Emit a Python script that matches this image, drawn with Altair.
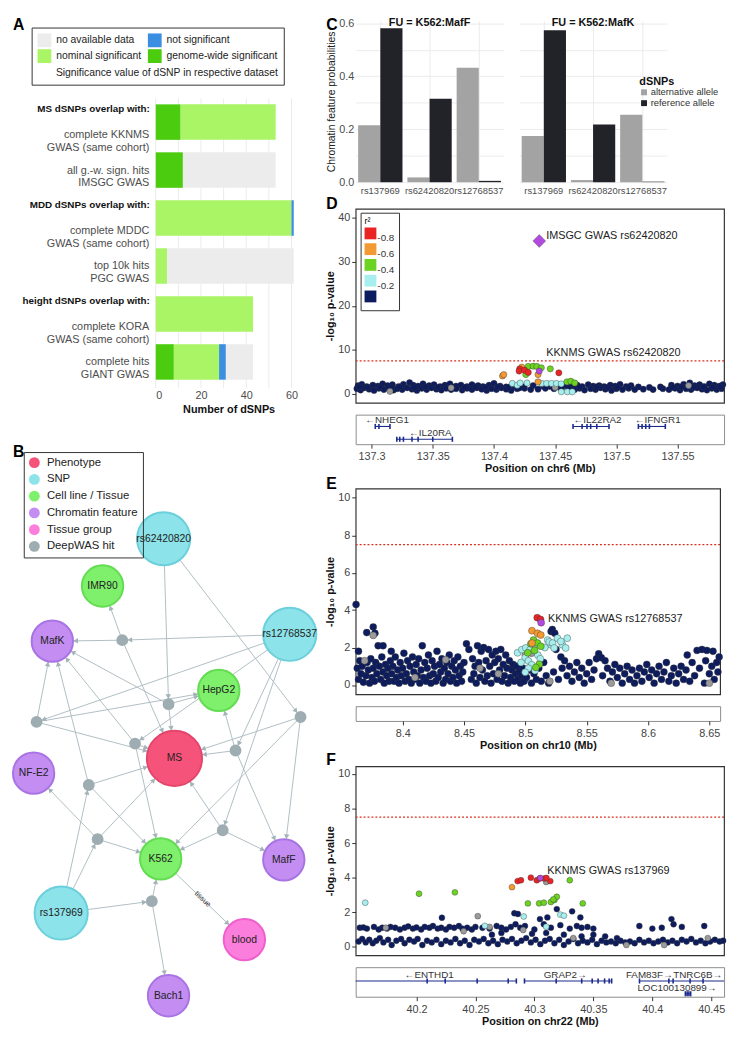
import math
import json
import pandas as pd
import altair as alt

FONT = "Liberation Sans"
GRID = "#ebebeb"
GENE = "#1b2a8c"

# ================= Panel A data =================
a_rows = ["complete KKNMS|GWAS (same cohort)", "all g.-w. sign. hits|IMSGC GWAS",
          "complete MDDC|GWAS (same cohort)", "top 10k hits|PGC GWAS",
          "complete KORA|GWAS (same cohort)", "complete hits|GIANT GWAS"]
a_headers = ["MS dSNPs overlap with:", "", "MDD dSNPs overlap with:", "",
             "height dSNPs overlap with:", ""]
a_gw = [11, 12, 0, 0, 0, 8]
a_nom = [42, 0, 60, 5, 43, 20]
a_ns = [0, 0, 1, 0, 0, 3]
a_na = [0, 41, 0, 56, 0, 12]
a_cats = ["genome-wide significant", "nominal significant", "not significant", "no available data"]
a_legend_order = ["no available data", "nominal significant", "not significant", "genome-wide significant"]
a_colors = ["#ececec", "#aaf566", "#3b8ee0", "#4bcc0e"]
a_ticks = [0, 10, 20, 30, 40, 50, 60]

# ================= Panel B data =================
b_types = ["Phenotype", "SNP", "Cell line / Tissue", "Chromatin feature", "Tissue group", "DeepWAS hit"]
b_fill = ["#f6537b", "#8ce3e9", "#7ef06c", "#c38df2", "#fb7edc", "#9eadb2"]
b_stroke = ["#e4456c", "#6ccfdc", "#63dc52", "#a874e3", "#ef5fcd", "#9eadb2"]
node_names = ["MS", "rs62420820", "rs12768537", "rs137969", "IMR90", "HepG2", "K562",
              "MafK", "NF-E2", "MafF", "Bach1", "blood",
              "h1", "h2", "h3", "h4", "h5", "h6", "h7", "h8", "h9", "h10"]
node_types = ["Phenotype", "SNP", "SNP", "SNP", "Cell line / Tissue", "Cell line / Tissue",
              "Cell line / Tissue", "Chromatin feature", "Chromatin feature", "Chromatin feature",
              "Chromatin feature", "Tissue group"] + ["DeepWAS hit"] * 10
node_x = [172, 161, 289, 57, 99, 217, 158, 48, 29, 283, 166, 243,
          119, 166, 32, 300, 132, 234, 85, 94, 221, 149]
node_y = [769, 546, 643, 926, 594, 700, 871, 650, 784, 872, 1010, 953,
          649, 714, 732, 727, 754, 761, 796, 851, 842, 914]
node_r = [28, 27, 27, 27, 21, 21, 21, 21, 21, 21, 21, 21] + [5] * 10
edge_src = ["rs62420820", "rs62420820", "rs12768537", "rs12768537", "rs12768537", "rs12768537",
            "rs12768537", "rs137969", "rs137969", "rs137969",
            "h1", "h1", "h1", "h2", "h2", "h2", "h3", "h3", "h3", "h4", "h4", "h4",
            "h5", "h5", "h5", "h6", "h6", "h6", "h7", "h7", "h7", "h8", "h8", "h8",
            "h9", "h9", "h9", "h10", "h10", "K562"]
edge_dst = ["h2", "h4", "h1", "h3", "h5", "h6", "h9", "h7", "h8", "h10",
            "MafK", "IMR90", "MS", "MS", "HepG2", "MafK", "MafK", "HepG2", "MS",
            "MS", "MafF", "K562", "MS", "K562", "MafK", "MS", "HepG2", "MafF",
            "MafK", "MS", "K562", "NF-E2", "MS", "K562", "MS", "K562", "MafF",
            "K562", "Bach1", "blood"]
edge_label = {("K562", "blood"): "tissue"}

# ================= Panel C data =================
c_fu = ["K562:MafF", "K562:MafK"]
c_snps = ["rs137969", "rs62420820", "rs12768537"]
c_alleles = ["alternative allele", "reference allele"]
c_maff_alt = [0.215, 0.018, 0.432]
c_maff_ref = [0.581, 0.315, 0.005]
c_mafk_alt = [0.174, 0.008, 0.255]
c_mafk_ref = [0.574, 0.218, 0.002]
c_grid = [0.0, 0.1, 0.2, 0.3, 0.4, 0.5, 0.6]

# ================= Panels D/E/F data =================
r2_domain = ["navy", "grey", "cyan", "green", "orange", "red", "purple"]
r2_range = ["#0d1c5e", "#9b9b9b", "#a6efee", "#6cd323", "#f49a32", "#ea2424", "#b34ae0"]
sig_line = [7.5]

# ---- D (chr6) ----
d_navy = [
    (137.289, 1.9), (137.292, 2.2), (137.296, 1.7), (137.301, 2.0), (137.305, 1.8), (137.309, 2.3),
    (137.313, 1.9), (137.317, 2.1), (137.322, 1.7), (137.326, 2.2), (137.331, 2.6), (137.334, 2.0),
    (137.338, 1.8), (137.342, 2.3), (137.347, 1.9), (137.351, 2.1), (137.356, 1.7), (137.36, 2.0),
    (137.364, 2.3), (137.369, 1.8), (137.373, 2.0), (137.378, 1.7), (137.382, 2.1), (137.387, 1.9),
    (137.391, 1.7), (137.396, 2.0), (137.4, 2.4), (137.405, 1.8), (137.41, 1.6), (137.417, 1.7),
    (137.424, 1.6), (137.432, 1.9), (137.44, 1.8), (137.446, 1.7), (137.452, 1.6), (137.458, 1.9),
    (137.463, 1.8), (137.468, 2.0), (137.472, 1.7), (137.477, 2.1), (137.481, 1.8), (137.486, 1.9),
    (137.49, 1.7), (137.495, 2.0), (137.499, 1.8), (137.503, 2.2), (137.508, 1.7), (137.512, 1.9),
    (137.518, 1.6), (137.527, 1.5), (137.536, 1.6), (137.545, 2.0), (137.55, 1.8), (137.555, 2.2),
    (137.56, 2.5), (137.564, 1.9), (137.568, 2.1), (137.572, 1.7), (137.576, 2.3), (137.58, 2.0),
    (137.584, 1.8), (137.587, 2.1),
    (137.288, 1.2), (137.291, 0.9), (137.294, 1.4), (137.298, 1.1), (137.302, 0.8), (137.306, 1.3),
    (137.31, 1.0), (137.314, 1.4), (137.318, 0.9), (137.321, 1.2), (137.325, 1.0), (137.329, 1.4),
    (137.333, 1.1), (137.337, 0.8), (137.341, 1.3), (137.345, 1.0), (137.349, 1.4), (137.353, 1.1),
    (137.357, 0.9), (137.361, 1.3), (137.365, 1.0), (137.369, 1.2), (137.374, 0.9), (137.378, 1.3),
    (137.382, 1.0), (137.386, 1.4), (137.39, 1.1), (137.394, 0.8), (137.398, 1.2), (137.402, 1.0),
    (137.406, 1.4), (137.41, 1.1), (137.414, 0.8), (137.419, 1.2), (137.425, 1.3), (137.43, 1.0),
    (137.436, 1.1), (137.442, 1.3), (137.449, 1.2), (137.455, 1.0), (137.461, 1.3), (137.466, 1.0),
    (137.47, 1.3), (137.474, 0.9), (137.479, 1.2), (137.483, 1.0), (137.487, 1.4), (137.491, 1.1),
    (137.496, 0.8), (137.5, 1.2), (137.505, 1.0), (137.51, 1.3), (137.515, 1.0), (137.522, 1.1),
    (137.53, 1.0), (137.538, 1.2), (137.543, 1.0), (137.548, 1.3), (137.552, 0.9), (137.557, 1.2),
    (137.561, 1.0), (137.566, 1.4), (137.57, 1.1), (137.574, 0.9), (137.578, 1.3), (137.582, 1.0),
    (137.586, 1.2),
    (137.29, 1.6), (137.297, 1.5), (137.307, 1.6), (137.316, 1.5), (137.323, 1.6), (137.335, 1.5),
    (137.344, 1.6), (137.354, 1.5), (137.366, 1.6), (137.376, 1.5), (137.385, 1.6), (137.393, 1.5),
    (137.403, 1.6), (137.412, 1.5), (137.421, 1.4), (137.47, 1.5), (137.484, 1.6), (137.493, 1.5),
    (137.501, 1.6), (137.51, 1.5), (137.546, 1.5), (137.553, 1.6), (137.563, 1.5), (137.571, 1.6),
    (137.579, 1.5), (137.585, 1.6)]
d_grey = [(137.315, 0.6), (137.365, 1.4), (137.45, 1.5), (137.559, 1.9)]
d_cyan = [(137.415, 2.4), (137.419, 2.0), (137.4214, 2.5), (137.427, 2.5), (137.439, 2.4),
          (137.443, 2.4), (137.447, 2.4), (137.451, 2.4), (137.455, 2.3), (137.455, 0.5),
          (137.46, 0.5), (137.464, 0.5)]
d_green = [(137.428, 6.25), (137.432, 6.3), (137.435, 6.25), (137.426, 4.4), (137.4387, 5.95),
           (137.446, 5.7), (137.4596, 2.75), (137.4628, 2.9), (137.466, 2.5)]
d_orange = [(137.407, 4.1), (137.408, 4.4), (137.4227, 6.1), (137.436, 4.4), (137.436, 2.75)]
d_red = [(137.421, 5.7), (137.4205, 5.2), (137.425, 5.4), (137.428, 4.9), (137.453, 4.8)]
d_purple = [(137.437, 5.2)]
d_imsgc = [(137.437, 34.7)]
d_notes = [("IMSGC GWAS rs62420820", 137.437, 35.9), ("KKNMS GWAS rs62420820", 137.437, 9.2)]
d_xdom = [137.287, 137.588]
d_ydom = [-2, 42]
d_yticks = [0, 10, 20, 30, 40]
d_xticks = [137.3, 137.35, 137.4, 137.45, 137.5, 137.55]
d_gene_names = ["NHEG1", "IL20RA", "IL22RA2", "IFNGR1"]
d_gene_start = [137.303, 137.3206, 137.4646, 137.518]
d_gene_end = [137.315, 137.366, 137.494, 137.540]
d_gene_row = [1, 2, 1, 1]
d_gene_strand = ["-", "-", "-", "-"]
d_gene_label_at = [137.3126, 137.348, 137.4846, 137.5338]
d_exons = [(137.303, 1), (137.306, 1), (137.315, 1), (137.3206, 2), (137.323, 2), (137.326, 2),
           (137.333, 2), (137.338, 2), (137.35, 2), (137.366, 2), (137.4646, 1), (137.472, 1),
           (137.476, 1), (137.479, 1), (137.484, 1), (137.494, 1), (137.518, 1), (137.521, 1),
           (137.524, 1), (137.527, 1), (137.54, 1)]

# ---- E (chr10) ----
e_navy = [
    (8.362, 4.3), (8.3707, 2.8), (8.376, 3.1), (8.3774, 2.76), (8.380, 2.1), (8.384, 2.1),
    (8.3907, 1.8), (8.364, 1.8), (8.363, 0.9), (8.364, 0.3), (8.365, 1.3), (8.366, 0.6),
    (8.367, 1.0), (8.368, 0.15), (8.37, 0.5), (8.371, 1.2), (8.372, 0.8), (8.373, 0.1),
    (8.374, 1.4), (8.375, 0.4), (8.376, 0.9), (8.377, 0.2), (8.378, 1.2), (8.379, 0.6),
    (8.381, 1.0), (8.382, 0.3), (8.383, 1.5), (8.384, 0.7), (8.385, 0.1), (8.386, 1.1),
    (8.387, 0.5), (8.388, 0.9), (8.389, 0.2), (8.39, 1.3), (8.391, 0.6), (8.392, 1.0),
    (8.393, 0.2), (8.394, 1.5), (8.395, 0.4), (8.396, 0.8), (8.397, 0.1), (8.398, 1.2),
    (8.399, 0.5), (8.40, 0.9), (8.401, 1.7), (8.402, 0.2), (8.403, 0.6), (8.404, 1.3),
    (8.405, 0.3), (8.406, 1.0), (8.407, 0.1), (8.408, 1.5), (8.409, 0.7), (8.41, 0.3),
    (8.411, 1.1), (8.412, 0.5), (8.413, 1.4), (8.414, 0.1), (8.415, 0.8), (8.416, 2.1),
    (8.417, 0.4), (8.418, 1.2), (8.419, 0.2), (8.42, 0.9), (8.421, 1.6), (8.422, 0.5),
    (8.423, 0.1), (8.424, 1.3), (8.425, 0.6), (8.426, 1.0), (8.427, 0.2), (8.428, 1.8),
    (8.429, 0.4), (8.43, 1.1), (8.431, 0.7), (8.432, 1.4), (8.433, 0.1), (8.434, 0.9),
    (8.435, 0.3), (8.436, 1.2), (8.437, 0.6), (8.438, 1.6), (8.439, 0.2), (8.44, 1.0),
    (8.441, 0.4), (8.442, 1.3), (8.443, 0.8), (8.444, 0.1), (8.445, 1.5), (8.446, 0.5),
    (8.447, 1.0), (8.448, 0.2), (8.449, 0.7), (8.45, 1.2), (8.452, 2.2), (8.454, 1.9),
    (8.456, 0.3), (8.457, 1.4), (8.458, 0.6), (8.459, 1.0), (8.46, 0.1), (8.461, 2.1),
    (8.462, 1.2), (8.463, 0.4), (8.464, 1.8), (8.465, 0.8), (8.466, 2.0), (8.467, 0.2),
    (8.468, 1.3), (8.469, 0.5), (8.47, 1.9), (8.471, 1.0), (8.472, 0.1), (8.473, 1.6),
    (8.474, 0.6), (8.475, 1.2), (8.476, 1.8), (8.477, 0.3), (8.478, 1.4), (8.479, 0.8),
    (8.48, 1.9), (8.481, 0.2), (8.482, 1.1), (8.483, 0.5), (8.484, 1.6), (8.485, 0.9),
    (8.486, 0.1), (8.487, 1.3), (8.488, 0.4), (8.489, 0.8), (8.49, 1.1), (8.491, 0.2),
    (8.492, 0.6), (8.493, 1.0), (8.494, 0.3), (8.495, 0.7), (8.496, 0.1), (8.497, 0.5),
    (8.498, 0.9), (8.499, 0.2), (8.501, 0.4), (8.503, 0.8), (8.505, 0.1), (8.507, 0.6),
    (8.509, 0.3), (8.511, 0.9), (8.513, 0.2), (8.515, 1.2), (8.517, 0.5), (8.519, 0.1),
    (8.521, 2.86), (8.522, 2.97), (8.524, 2.76), (8.523, 0.7), (8.525, 1.9), (8.527, 0.3),
    (8.529, 1.5), (8.53, 0.9), (8.532, 1.3), (8.534, 0.5), (8.536, 1.0), (8.538, 0.2),
    (8.54, 0.7), (8.542, 1.2), (8.544, 0.4), (8.546, 0.9), (8.548, 0.1), (8.55, 0.6),
    (8.552, 1.2), (8.554, 0.3), (8.556, 0.8), (8.558, 1.4), (8.5598, 1.67), (8.562, 1.46),
    (8.565, 1.3), (8.563, 0.5), (8.567, 0.9), (8.569, 0.2), (8.571, 0.7), (8.573, 1.1),
    (8.575, 0.4), (8.577, 0.9), (8.579, 0.1), (8.581, 0.6), (8.583, 1.0), (8.585, 0.3),
    (8.587, 0.8), (8.589, 0.1), (8.591, 0.5), (8.593, 0.9), (8.595, 0.2), (8.597, 0.7),
    (8.599, 1.1), (8.601, 0.4), (8.603, 0.8), (8.605, 0.1), (8.607, 0.6), (8.609, 1.0),
    (8.611, 0.3), (8.613, 0.7), (8.615, 1.2), (8.617, 0.2), (8.619, 0.5), (8.621, 0.9),
    (8.623, 0.1), (8.625, 0.6), (8.627, 1.0), (8.629, 0.3), (8.631, 0.8), (8.632, 1.6),
    (8.634, 0.2), (8.636, 1.2), (8.638, 0.5), (8.64, 1.85), (8.642, 0.9), (8.644, 1.9),
    (8.646, 0.1), (8.647, 1.3), (8.648, 1.85), (8.65, 0.6), (8.652, 1.0), (8.653, 1.8),
    (8.654, 0.3), (8.656, 1.2), (8.657, 0.7), (8.658, 1.5)]
e_grey = [(8.369, 1.3), (8.376, 2.65), (8.41, 0.4), (8.435, 1.35), (8.463, 0.9), (8.478, 0.6),
          (8.505, 1.7), (8.52, 0.2), (8.5, 1.6), (8.57, 0.1), (8.65, 0.1)]
e_cyan = [(8.4937, 1.72), (8.4972, 1.89), (8.5004, 1.98), (8.5039, 1.89), (8.4999, 1.46),
          (8.5025, 1.29), (8.5052, 1.08), (8.5025, 0.9), (8.4999, 0.68), (8.5079, 0.77),
          (8.5182, 2.4), (8.5209, 2.15), (8.5195, 2.3), (8.5222, 2.24), (8.5262, 2.5),
          (8.5302, 2.15), (8.5329, 1.98), (8.5235, 1.98), (8.5289, 2.33), (8.5342, 2.5),
          (8.5102, 1.6), (8.5122, 1.4), (8.4965, 1.2), (8.5159, 2.0), (8.509, 2.2)]
e_green = [(8.5067, 2.4), (8.5099, 2.24), (8.5126, 2.07), (8.502, 1.72), (8.5113, 1.11),
           (8.5086, 0.94), (8.5075, 1.85), (8.5045, 2.2)]
e_orange = [(8.5054, 2.9), (8.5099, 2.76), (8.5126, 2.67), (8.5054, 2.24)]
e_red = [(8.5097, 3.6), (8.5124, 3.5)]
e_purple = [(8.5129, 3.33)]
e_notes = [("KKNMS GWAS rs12768537", 8.5129, 3.55)]
e_xdom = [8.3617, 8.6588]
e_ydom = [-0.5, 10.5]
e_yticks = [0, 2, 4, 6, 8, 10]
e_xticks = [8.4, 8.45, 8.5, 8.55, 8.6, 8.65]

# ---- F (chr22) ----
f_navy = [
    (40.152, 1.1), (40.155, 1.12), (40.158, 1.05), (40.164, 1.15), (40.168, 1.0), (40.171, 1.1),
    (40.175, 1.05), (40.178, 1.15), (40.182, 1.1), (40.186, 1.0), (40.19, 1.1), (40.193, 1.18),
    (40.197, 1.05), (40.2, 1.12), (40.204, 1.0), (40.207, 1.15), (40.211, 1.1), (40.214, 1.2),
    (40.218, 1.05), (40.221, 1.1), (40.225, 1.0), (40.228, 1.15), (40.232, 1.1), (40.236, 1.2),
    (40.239, 1.05), (40.243, 1.1), (40.247, 1.0), (40.25, 1.15), (40.256, 1.1), (40.262, 1.05),
    (40.268, 1.2), (40.272, 1.1), (40.276, 1.0), (40.28, 1.15), (40.284, 1.3), (40.288, 1.1),
    (40.292, 1.2), (40.3, 1.0), (40.308, 1.3), (40.314, 1.1), (40.322, 1.25), (40.33, 1.05),
    (40.336, 1.2), (40.34, 1.1), (40.345, 1.15), (40.35, 1.05), (40.389, 1.2), (40.408, 1.1),
    (40.418, 1.3), (40.425, 1.15), (40.444, 1.2), (40.4, 1.05),
    (40.151, 0.3), (40.154, 0.45), (40.157, 0.25), (40.16, 0.4), (40.163, 0.2), (40.166, 0.35),
    (40.169, 0.5), (40.172, 0.25), (40.176, 0.4), (40.179, 0.1), (40.183, 0.35), (40.187, 0.45),
    (40.19, 0.2), (40.194, 0.4), (40.198, 0.3), (40.201, 0.45), (40.205, 0.1), (40.209, 0.35),
    (40.213, 0.25), (40.217, 0.4), (40.221, 0.15), (40.225, 0.35), (40.229, 0.25), (40.233, 0.45),
    (40.237, 0.2), (40.241, 0.35), (40.245, 0.1), (40.249, 0.4), (40.253, 0.3), (40.257, 0.45),
    (40.261, 0.2), (40.265, 0.35), (40.269, 0.15), (40.273, 0.4), (40.277, 0.3), (40.281, 0.45),
    (40.285, 0.2), (40.289, 0.35), (40.293, 0.5), (40.297, 0.25), (40.301, 0.4), (40.305, 0.15),
    (40.309, 0.35), (40.313, 0.45), (40.317, 0.2), (40.321, 0.4), (40.325, 0.1), (40.329, 0.3),
    (40.333, 0.45), (40.337, 0.2), (40.341, 0.35), (40.345, 0.25), (40.349, 0.4), (40.353, 0.15),
    (40.357, 0.35), (40.361, 0.25), (40.365, 0.3), (40.369, 0.2), (40.373, 0.35), (40.377, 0.25),
    (40.381, 0.3), (40.385, 0.2), (40.389, 0.4), (40.393, 0.25), (40.397, 0.35), (40.401, 0.2),
    (40.405, 0.3), (40.409, 0.4), (40.413, 0.25), (40.417, 0.35), (40.421, 0.2), (40.425, 0.4),
    (40.429, 0.3), (40.433, 0.45), (40.437, 0.25), (40.441, 0.35), (40.445, 0.2), (40.449, 0.3),
    (40.453, 0.4), (40.457, 0.3), (40.46, 0.35),
    (40.2216, 1.68), (40.283, 1.94), (40.3047, 1.6), (40.311, 1.7), (40.332, 2.05), (40.339, 1.7),
    (40.4162, 1.6), (40.319, 2.18), (40.286, 1.9), (40.264, 0.7), (40.272, 0.8), (40.298, 0.75),
    (40.31, 0.8), (40.325, 0.7), (40.34, 0.6), (40.35, 0.7), (40.36, 0.6), (40.37, 0.5)]
f_grey = [(40.174, 1.1), (40.252, 1.77), (40.262, 1.15), (40.2905, 0.97), (40.333, 0.5),
          (40.378, 0.1), (40.41, 0.1), (40.447, 0.5), (40.24, 0.9), (40.31, 3.75)]
f_cyan = [(40.1566, 2.55), (40.291, 1.75), (40.322, 1.86), (40.325, 1.8), (40.31, 1.16),
          (40.258, 1.21)]
f_green = [(40.2022, 3.07), (40.2326, 3.15), (40.33, 3.85), (40.2945, 2.51), (40.304, 2.51),
           (40.308, 2.55), (40.314, 2.59), (40.317, 2.7), (40.319, 2.89), (40.316, 2.74),
           (40.341, 2.51)]
f_orange = [(40.281, 3.45)]
f_red = [(40.2858, 3.8), (40.2886, 3.85), (40.297, 4.0), (40.302, 3.85), (40.3046, 3.95),
         (40.3084, 3.95), (40.3135, 3.8), (40.3102, 3.98)]
f_purple = [(40.305, 3.98)]
f_notes = [("KKNMS GWAS rs137969", 40.305, 4.37)]
f_xdom = [40.1485, 40.4608]
f_ydom = [-0.5, 10.45]
f_yticks = [0, 2, 4, 6, 8, 10]
f_xticks = [40.2, 40.25, 40.3, 40.35, 40.4, 40.45]
f_gene_names = ["ENTHD1", "GRAP2", "FAM83F", "TNRC6B", "LOC100130899"]
f_gene_start = [40.1485, 40.2916, 40.3891, 40.4176, 40.4278]
f_gene_end = [40.2847, 40.3655, 40.4176, 40.4608, 40.4328]
f_gene_row = [1, 1, 1, 1, 2]
f_gene_strand = ["-", "+", "+", "+", "+"]
f_gene_label_at = [40.2108, 40.3262, 40.3975, 40.4385, 40.4209]
f_exons = [(40.2091, 1), (40.2244, 1), (40.2515, 1), (40.2778, 1), (40.2847, 1),
           (40.2916, 1), (40.3185, 1), (40.3401, 1), (40.349, 1), (40.354, 1), (40.3595, 1),
           (40.3634, 1), (40.3655, 1), (40.3891, 1), (40.414, 1), (40.4176, 1), (40.432, 1),
           (40.443, 1), (40.428, 2), (40.4295, 2), (40.431, 2), (40.4325, 2)]


# ================= helpers =================
def letter(ch, x, y):
    return alt.Chart(pd.DataFrame({"t": [ch]})).mark_text(
        align="left", baseline="top", fontSize=16, fontWeight="bold", color="#000"
    ).encode(x=alt.value(x), y=alt.value(y), text="t:N")


RES = dict(color="independent", fill="independent", stroke="independent", size="independent",
           x="independent", y="independent")

# ================= Panel A =================
a_labels = [(" |" + r) if h else r for r, h in zip(a_rows, a_headers)]
recs = []
for i in range(len(a_rows)):
    start = 0
    for k, (cat, vals) in enumerate(zip(a_cats, [a_gw, a_nom, a_ns, a_na])):
        v = vals[i]
        if v > 0:
            recs.append({"i": i, "y1": i - 0.37, "y2": i + 0.37, "x0": start,
                         "x1": start + v, "cat": cat})
        start += v
a_df = pd.DataFrame(recs)
a_hdr = pd.DataFrame({"i": [i for i, h in enumerate(a_headers) if h],
                      "t": [h for h in a_headers if h]})

a_xs = alt.Scale(domain=[0, 64], nice=False, zero=False)
a_ys = alt.Scale(domain=[-2.115, 5.544], nice=False, zero=False, reverse=True)
a_yax = alt.Axis(values=list(range(len(a_rows))), title=None,
                 labelExpr="split(" + json.dumps(a_labels) + "[datum.value], '|')",
                 labelFontSize=11, labelColor="#4d4d4d", labelLineHeight=13, ticks=False,
                 domain=False, labelPadding=7, labelLimit=400, grid=False)
a_grid = alt.Chart(pd.DataFrame({"g": a_ticks})).mark_rule(color=GRID, strokeWidth=1).encode(
    x=alt.X("g:Q", scale=a_xs,
            axis=alt.Axis(values=a_ticks,
                          labelExpr="datum.value % 20 == 0 ? datum.label : ''",
                          title="Number of dSNPs", titleFontWeight="bold", titleFontSize=11,
                          titleColor="#111", labelFontSize=11, labelColor="#4d4d4d",
                          ticks=False, domain=False, grid=False, labelPadding=2,
                          titlePadding=3, titleX=74)),
    y=alt.value(79), y2=alt.value(373))
a_bars = alt.Chart(a_df).mark_bar().encode(
    x=alt.X("x0:Q", scale=a_xs), x2="x1:Q",
    y=alt.Y("y1:Q", scale=a_ys, axis=a_yax), y2="y2:Q",
    color=alt.Color("cat:N", scale=alt.Scale(domain=a_legend_order, range=a_colors),
                    legend=alt.Legend(title="Significance value of dSNP in respective dataset",
                                      orient="none", legendX=-126, legendY=7, columns=2,
                                      titleOrient="bottom", titleAnchor="end",
                                      titleFontWeight="normal", titleFontSize=10.5,
                                      titleColor="#222", titlePadding=5, labelFontSize=10.5,
                                      labelColor="#222", symbolType="square", symbolSize=196,
                                      symbolStrokeWidth=0, symbolOpacity=1, strokeColor="#333",
                                      padding=6, rowPadding=2, columnPadding=6, labelOffset=5,
                                      labelLimit=300, titleLimit=400)),
)
a_hdr_txt = alt.Chart(a_hdr).mark_text(
    align="right", baseline="middle", dy=-13, fontWeight="bold", fontSize=10, color="#111"
).encode(x=alt.value(-6), y=alt.Y("i:Q", scale=a_ys, axis=a_yax), text="t:N")
panel_a = alt.layer(a_grid, a_bars, a_hdr_txt, letter("A", -145, -4)).properties(
    width=147, height=373)

# ================= Panel B =================
pos = {n: (x, y, r) for n, x, y, r in zip(node_names, node_x, node_y, node_r)}
e_rows, arr_rows, lab_rows = [], [], []
for s, d in zip(edge_src, edge_dst):
    x1, y1, _ = pos[s]
    x2, y2, r2 = pos[d]
    L = math.hypot(x2 - x1, y2 - y1)
    ux, uy = (x2 - x1) / L, (y2 - y1) / L
    e_rows.append({"x1": x1, "y1": y1, "x2": x2, "y2": y2})
    ang = math.degrees(math.atan2(ux, -uy)) % 360
    arr_rows.append({"ax": x2 - ux * (r2 + 3.5), "ay": y2 - uy * (r2 + 3.5), "ang": ang})
    if (s, d) in edge_label:
        ta = math.degrees(math.atan2(y2 - y1, x2 - x1)) % 360
        lab_rows.append({"lx": (x1 + x2) / 2, "ly": (y1 + y2) / 2, "ang": ta, "t": edge_label[(s, d)]})
b_edges = pd.DataFrame(e_rows)
b_arrows = pd.DataFrame(arr_rows)
b_elab = pd.DataFrame(lab_rows)
b_nodes = pd.DataFrame({"name": node_names, "type": node_types, "x": node_x, "y": node_y,
                        "sz": [(2 * r) ** 2 for r in node_r]})
b_nodes["label"] = [n if t != "DeepWAS hit" else "" for n, t in zip(node_names, node_types)]

bxs = alt.Scale(domain=[153, 323], nice=False, zero=False)
bys = alt.Scale(domain=[440, 1036], nice=False, zero=False, reverse=True)
b_e = alt.Chart(b_edges).mark_rule(color="#b0bec3", strokeWidth=1).encode(
    x=alt.X("x1:Q", scale=bxs, axis=None), y=alt.Y("y1:Q", scale=bys, axis=None),
    x2="x2:Q", y2="y2:Q")
b_a = alt.Chart(b_arrows).mark_point(shape="triangle", filled=True, size=30, color="#a3b3b8",
                                     opacity=1).encode(
    x=alt.X("ax:Q", scale=bxs, axis=None), y=alt.Y("ay:Q", scale=bys, axis=None),
    angle=alt.Angle("ang:Q", scale=None))
b_n = alt.Chart(b_nodes).mark_circle(opacity=1, strokeWidth=2).encode(
    x=alt.X("x:Q", scale=bxs, axis=None), y=alt.Y("y:Q", scale=bys, axis=None),
    size=alt.Size("sz:Q", scale=None, legend=None),
    fill=alt.Fill("type:N", scale=alt.Scale(domain=b_types, range=b_fill),
                  legend=alt.Legend(title=None, orient="none", legendX=-134, legendY=18,
                                    symbolType="circle", symbolSize=121, symbolStrokeWidth=0,
                                    symbolOpacity=1, labelFontSize=11.5, labelColor="#222",
                                    strokeColor="#333", padding=5, rowPadding=4,
                                    labelOffset=7)),
    stroke=alt.Stroke("type:N", scale=alt.Scale(domain=b_types, range=b_stroke), legend=None))
b_t = alt.Chart(b_nodes).mark_text(fontSize=10.5, color="#222").encode(
    x=alt.X("x:Q", scale=bxs, axis=None), y=alt.Y("y:Q", scale=bys, axis=None), text="label:N")
b_l = alt.Chart(b_elab).mark_text(fontSize=7.5, color="#333", baseline="middle").encode(
    x=alt.X("lx:Q", scale=bxs, axis=None), y=alt.Y("ly:Q", scale=bys, axis=None),
    angle=alt.Angle("ang:Q", scale=None), text="t:N")
panel_b = alt.layer(b_e, b_a, b_n, b_t, b_l, letter("B", -145, 10)).properties(
    width=170, height=596)

left = alt.vconcat(panel_a, panel_b, spacing=18).resolve_scale(**RES)


# ================= Panel C =================
def c_panel(fu, alt_vals, ref_vals, first):
    df = pd.DataFrame({"snp": c_snps * 2,
                       "allele": [c_alleles[0]] * 3 + [c_alleles[1]] * 3,
                       "p": alt_vals + ref_vals})
    if first:
        yax = alt.Axis(values=c_grid,
                       labelExpr="(round(datum.value*10) % 2 == 0) ? format(datum.value, '.1f') : ''",
                       title="Chromatin feature probabilities", titleFontSize=10.5,
                       titleFontWeight="normal", titleColor="#222", labelFontSize=11,
                       labelColor="#4d4d4d", ticks=False, domain=False, gridColor=GRID,
                       labelPadding=2, titlePadding=2)
        leg = None
    else:
        yax = alt.Axis(values=c_grid, labels=False, ticks=False, domain=False, title=None,
                       gridColor=GRID)
        leg = alt.Legend(title="dSNPs", orient="none", legendX=122, legendY=56,
                         titleFontSize=11, titleFontWeight="bold", titleColor="#111",
                         labelFontSize=9.5, labelColor="#333", symbolType="square",
                         symbolSize=36, symbolStrokeWidth=0, symbolOpacity=1, rowPadding=0,
                         labelOffset=2, titlePadding=1, padding=0, labelLimit=200)
    color = alt.Color("allele:N", scale=alt.Scale(domain=c_alleles, range=["#a3a3a3", "#222328"]))
    color = color.legend(leg) if leg is not None else color.legend(None)
    bars = alt.Chart(df).mark_bar().encode(
        x=alt.X("snp:N", sort=c_snps, scale=alt.Scale(paddingInner=0.1, paddingOuter=0.05),
                axis=alt.Axis(title=None, labelAngle=0, labelFontSize=9.5, labelColor="#4d4d4d",
                              ticks=False, domain=False, gridColor=GRID, grid=True,
                              bandPosition=0.5, labelPadding=3)),
        xOffset=alt.XOffset("allele:N", sort=c_alleles),
        y=alt.Y("p:Q", scale=alt.Scale(domain=[0, 0.61], nice=False), axis=yax),
        color=color,
    )
    head = alt.Chart(pd.DataFrame({"t": ["FU = " + fu]})).mark_text(
        baseline="top", fontSize=11, fontWeight="bold", color="#111"
    ).encode(x=alt.value(75), y=alt.value(-4), text="t:N")
    layers = [bars, head]
    if first:
        layers.append(letter("C", -30, -4))
    return alt.layer(*layers).properties(width=150, height=164)


panel_c = alt.hconcat(c_panel(c_fu[0], c_maff_alt, c_maff_ref, True),
                      c_panel(c_fu[1], c_mafk_alt, c_mafk_ref, False),
                      spacing=14).resolve_scale(color="independent")


# ================= Panels D/E/F =================
def pts_frame(groups):
    rows = []
    for cat, pts in groups.items():
        for x, y in pts:
            rows.append({"x": x, "y": y, "c": cat, "o": r2_domain.index(cat)})
    return pd.DataFrame(rows)


def scatter(groups, xdom, ydom, yticks, width, height, size, legend, notes, let, tlet,
            diamond=None):
    xs = alt.Scale(domain=xdom, nice=False, zero=False)
    ys = alt.Scale(domain=ydom, nice=False, zero=False)
    yax = alt.Axis(values=yticks, title="-log\u2081\u2080 p-value", titleFontSize=11,
                   titleFontWeight="bold", titleColor="#111", labelFontSize=11,
                   labelColor="#444", tickSize=4, tickColor="#333", labelPadding=2,
                   titlePadding=2, domain=False, grid=False)
    df = pts_frame(groups)
    col = alt.Color("c:N", scale=alt.Scale(domain=r2_domain, range=r2_range))
    if legend:
        col = col.legend(alt.Legend(
            title="r\u00b2", orient="none", legendX=5, legendY=4,
            values=["red", "orange", "green", "cyan", "navy"],
            labelExpr="datum.label=='red' ? '-0.8' : datum.label=='orange' ? '-0.6' : "
                      "datum.label=='green' ? '-0.4' : datum.label=='cyan' ? '-0.2' : ''",
            symbolType="square", symbolSize=144, symbolStrokeWidth=0, symbolOpacity=1,
            rowPadding=0, labelFontSize=10, labelBaseline="top", labelOffset=1,
            titleFontSize=9, titleFontWeight="normal", titlePadding=2, strokeColor="#333",
            padding=4, labelColor="#333"))
    else:
        col = col.legend(None)
    layers = []
    layers.append(alt.Chart(pd.DataFrame({"v": sig_line})).mark_rule(
        color="#d7301f", strokeDash=[2, 2], strokeWidth=1.2).encode(
        y=alt.Y("v:Q", scale=ys, axis=yax)))
    layers.append(alt.Chart(df).mark_circle(size=size, opacity=1, stroke="#333",
                                            strokeWidth=0.4).encode(
        x=alt.X("x:Q", scale=xs, axis=None), y=alt.Y("y:Q", scale=ys, axis=yax),
        color=col, order=alt.Order("o:Q", sort="ascending")))
    if diamond is not None:
        layers.append(alt.Chart(pd.DataFrame(diamond, columns=["x", "y"])).mark_point(
            shape="diamond", filled=True, size=170, color="#b34ae0", stroke="#666",
            strokeWidth=0.5, opacity=1).encode(
            x=alt.X("x:Q", scale=xs, axis=None), y=alt.Y("y:Q", scale=ys, axis=yax)))
    layers.append(alt.Chart(pd.DataFrame(notes, columns=["t", "x", "y"])).mark_text(
        align="left", baseline="middle", dx=7, fontSize=11, color="#222").encode(
        x=alt.X("x:Q", scale=xs, axis=None), y=alt.Y("y:Q", scale=ys, axis=yax), text="t:N"))
    layers.append(letter(let, -30, tlet))
    return alt.layer(*layers).properties(
        width=width, height=height, view=alt.ViewBackground(stroke="#333", strokeWidth=1.2))


def track(names, starts, ends, rows, strands, label_at, exons, xdom, ticks, title, width,
          height, ydom):
    xs = alt.Scale(domain=xdom, nice=False, zero=False)
    ys = alt.Scale(domain=ydom, nice=False, zero=False, reverse=True)
    xax = alt.Axis(values=ticks, format="~g", title=title, tickSize=4, tickColor="#333",
                   labelPadding=3, labelFontSize=11, labelColor="#444", titleFontSize=11,
                   titleFontWeight="bold", titleColor="#111", titlePadding=1, domain=False,
                   grid=False, labelFlush=False)
    layers = []
    if names:
        gdf = pd.DataFrame({"start": starts, "end": ends, "row": rows, "mid": label_at,
                            "label": [("\u2190" + n) if s == "-" else (n + "\u2192")
                                      for n, s in zip(names, strands)]})
        edf = pd.DataFrame(exons, columns=["pos", "row"])
        edf["y1"] = edf["row"] - 0.2
        edf["y2"] = edf["row"] + 0.2
        layers.append(alt.Chart(gdf).mark_rule(color=GENE, strokeWidth=1.1).encode(
            x=alt.X("start:Q", scale=xs, axis=xax), x2="end:Q",
            y=alt.Y("row:Q", scale=ys, axis=None)))
        layers.append(alt.Chart(edf).mark_rule(color=GENE, strokeWidth=1.6).encode(
            x=alt.X("pos:Q", scale=xs, axis=xax), y=alt.Y("y1:Q", scale=ys, axis=None),
            y2="y2:Q"))
        layers.append(alt.Chart(gdf).mark_text(fontSize=10, color="#333", baseline="middle",
                                               dy=-6).encode(
            x=alt.X("mid:Q", scale=xs, axis=xax), y=alt.Y("row:Q", scale=ys, axis=None),
            text="label:N"))
    else:
        layers.append(alt.Chart(pd.DataFrame({"x": ticks})).mark_point(opacity=0).encode(
            x=alt.X("x:Q", scale=xs, axis=xax), y=alt.value(5)))
    return alt.layer(*layers).properties(
        width=width, height=height, view=alt.ViewBackground(stroke="#8c8c8c", strokeWidth=1))


d_sc = scatter({"navy": d_navy, "grey": d_grey, "cyan": d_cyan, "green": d_green,
                "orange": d_orange, "red": d_red, "purple": d_purple},
               d_xdom, d_ydom, d_yticks, 374, 197, 40, True, d_notes, "D", -13, diamond=d_imsgc)
d_tr = track(d_gene_names, d_gene_start, d_gene_end, d_gene_row, d_gene_strand,
             d_gene_label_at, d_exons, d_xdom, d_xticks, "Position on chr6 (Mb)", 374, 30,
             [1 - 12 / 13, 1 + 18 / 13])
panel_d = alt.vconcat(d_sc, d_tr, spacing=10).resolve_scale(color="independent")

e_sc = scatter({"navy": e_navy, "grey": e_grey, "cyan": e_cyan, "green": e_green,
                "orange": e_orange, "red": e_red, "purple": e_purple},
               e_xdom, e_ydom, e_yticks, 370, 209, 50, False, e_notes, "E", -13)
e_tr = track([], [], [], [], [], [], [], e_xdom, e_xticks, "Position on chr10 (Mb)", 370, 15,
             [0, 1])
panel_e = alt.vconcat(e_sc, e_tr, spacing=10).resolve_scale(color="independent")

f_sc = scatter({"navy": f_navy, "grey": f_grey, "cyan": f_cyan, "green": f_green,
                "orange": f_orange, "red": f_red, "purple": f_purple},
               f_xdom, f_ydom, f_yticks, 374, 192, 36, False, f_notes, "F", -14)
f_tr = track(f_gene_names, f_gene_start, f_gene_end, f_gene_row, f_gene_strand,
             f_gene_label_at, f_exons, f_xdom, f_xticks, "Position on chr22 (Mb)", 374, 30,
             [1 - 14 / 13, 1 + 16 / 13])
panel_f = alt.vconcat(f_sc, f_tr, spacing=10).resolve_scale(color="independent")

right = alt.vconcat(panel_c, panel_d, panel_e, panel_f, spacing=0).resolve_scale(
    color="independent", x="independent", y="independent")

chart = alt.hconcat(left, right, spacing=0).resolve_scale(**RES).properties(
    padding=0).configure(font=FONT).configure_view(stroke="transparent")

chart.save("out.html", embed_options={"renderer": "svg", "actions": False})
